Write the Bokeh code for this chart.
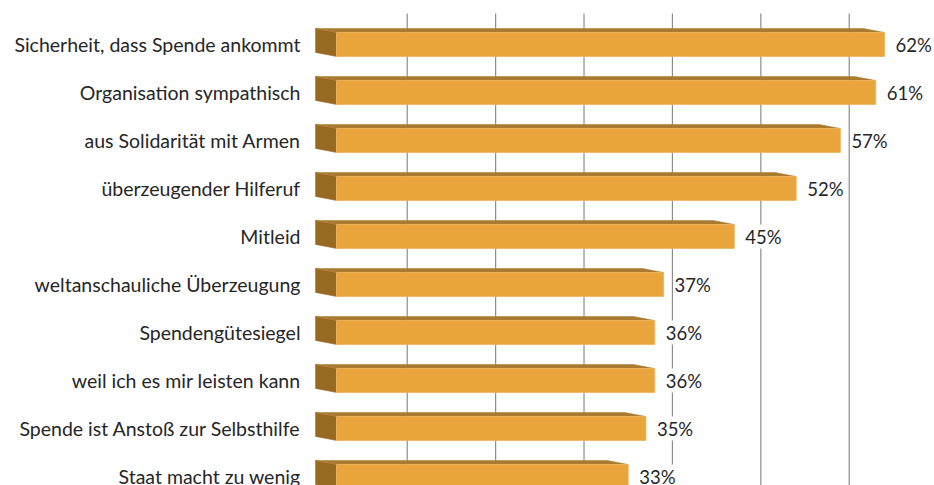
from bokeh.plotting import figure
from bokeh.models import Range1d, ColumnDataSource
from bokeh.core.properties import value
from bokeh.embed import file_html
from bokeh.resources import INLINE

# ---- data ----
categories = [
    "Sicherheit, dass Spende ankommt",
    "Organisation sympathisch",
    "aus Solidarität mit Armen",
    "überzeugender Hilferuf",
    "Mitleid",
    "weltanschauliche Überzeugung",
    "Spendengütesiegel",
    "weil ich es mir leisten kann",
    "Spende ist Anstoß zur Selbsthilfe",
    "Staat macht zu wenig",
]
values = [62, 61, 57, 52, 45, 37, 36, 36, 35, 33]
grid_ticks = [10, 20, 30, 40, 50, 60]

# ---- layout constants (pixels) ----
W, H = 934, 485
PX_PER_PCT = 8.84
ZERO_PX = 336          # x of 0% on the front face, from figure left
ROW_PX = 48
FIRST_ROW_PX = 44      # centre of first bar, from figure top
DEPTH_X_PX = 21
DEPTH_Y_PX = 4
FRONT_H_PX = 24
BACK_SHIFT = 2.0       # gridlines sit on the back wall

x0 = -ZERO_PX / PX_PER_PCT
x1 = x0 + W / PX_PER_PCT
y_top = -FIRST_ROW_PX / ROW_PX
y_bottom = y_top + H / ROW_PX

DX = DEPTH_X_PX / PX_PER_PCT
DY = DEPTH_Y_PX / ROW_PX
HALF = FRONT_H_PX / 2 / ROW_PX

p = figure(width=W, height=H, x_range=Range1d(x0, x1),
           y_range=Range1d(y_bottom, y_top),
           output_backend="svg", toolbar_location=None,
           x_axis_location=None, y_axis_location=None,
           min_border=0, background_fill_color="white",
           border_fill_color="white")
p.grid.visible = False
p.outline_line_color = None

# gridlines on back wall
p.extra_x_ranges["back"] = Range1d(x0 + BACK_SHIFT, x1 + BACK_SHIFT)
grid_top = y_top + 13 / ROW_PX
p.segment(x0=grid_ticks, x1=grid_ticks, y0=[grid_top] * len(grid_ticks),
          y1=[y_bottom + 1] * len(grid_ticks), x_range_name="back",
          line_color="#8c8c8c", line_width=1.2, level="underlay")

ys = list(range(len(values)))

side_xs, side_ys, top_xs, top_ys = [], [], [], []
for i, v in zip(ys, values):
    side_xs.append([-DX, 0, 0, -DX])
    side_ys.append([i - HALF - DY, i - HALF, i + HALF, i + HALF - DY])
    top_xs.append([0, v, v - DX, -DX])
    top_ys.append([i - HALF, i - HALF, i - HALF - DY, i - HALF - DY])

p.patches(side_xs, side_ys, fill_color="#966A21", line_color="#966A21", line_width=0.5)
p.patches(top_xs, top_ys, fill_color="#A97B2F", line_color="#A97B2F", line_width=0.5)

src = ColumnDataSource(dict(y=ys, v=values, cat=categories,
                            lab=[f"{v}%" for v in values], zero=[0] * len(values)))
p.hbar(y="y", left="zero", right="v", height=2 * HALF, source=src,
       fill_color="#E9A43C", line_color="#EDB460", line_width=0.8)

p.text(x="zero", y="y", text="cat", source=src, x_offset=-36,
       text_align="right", text_baseline="middle",
       text_font=value("Lato"), text_font_size="19.5px", text_color="#262626")
p.text(x="v", y="y", text="lab", source=src, x_offset=10,
       text_align="left", text_baseline="middle",
       text_font=value("Lato"), text_font_size="18.5px", text_color="#262626",
       background_fill_color="white", padding=1)

open("out.html", "w").write(file_html(p, INLINE))
